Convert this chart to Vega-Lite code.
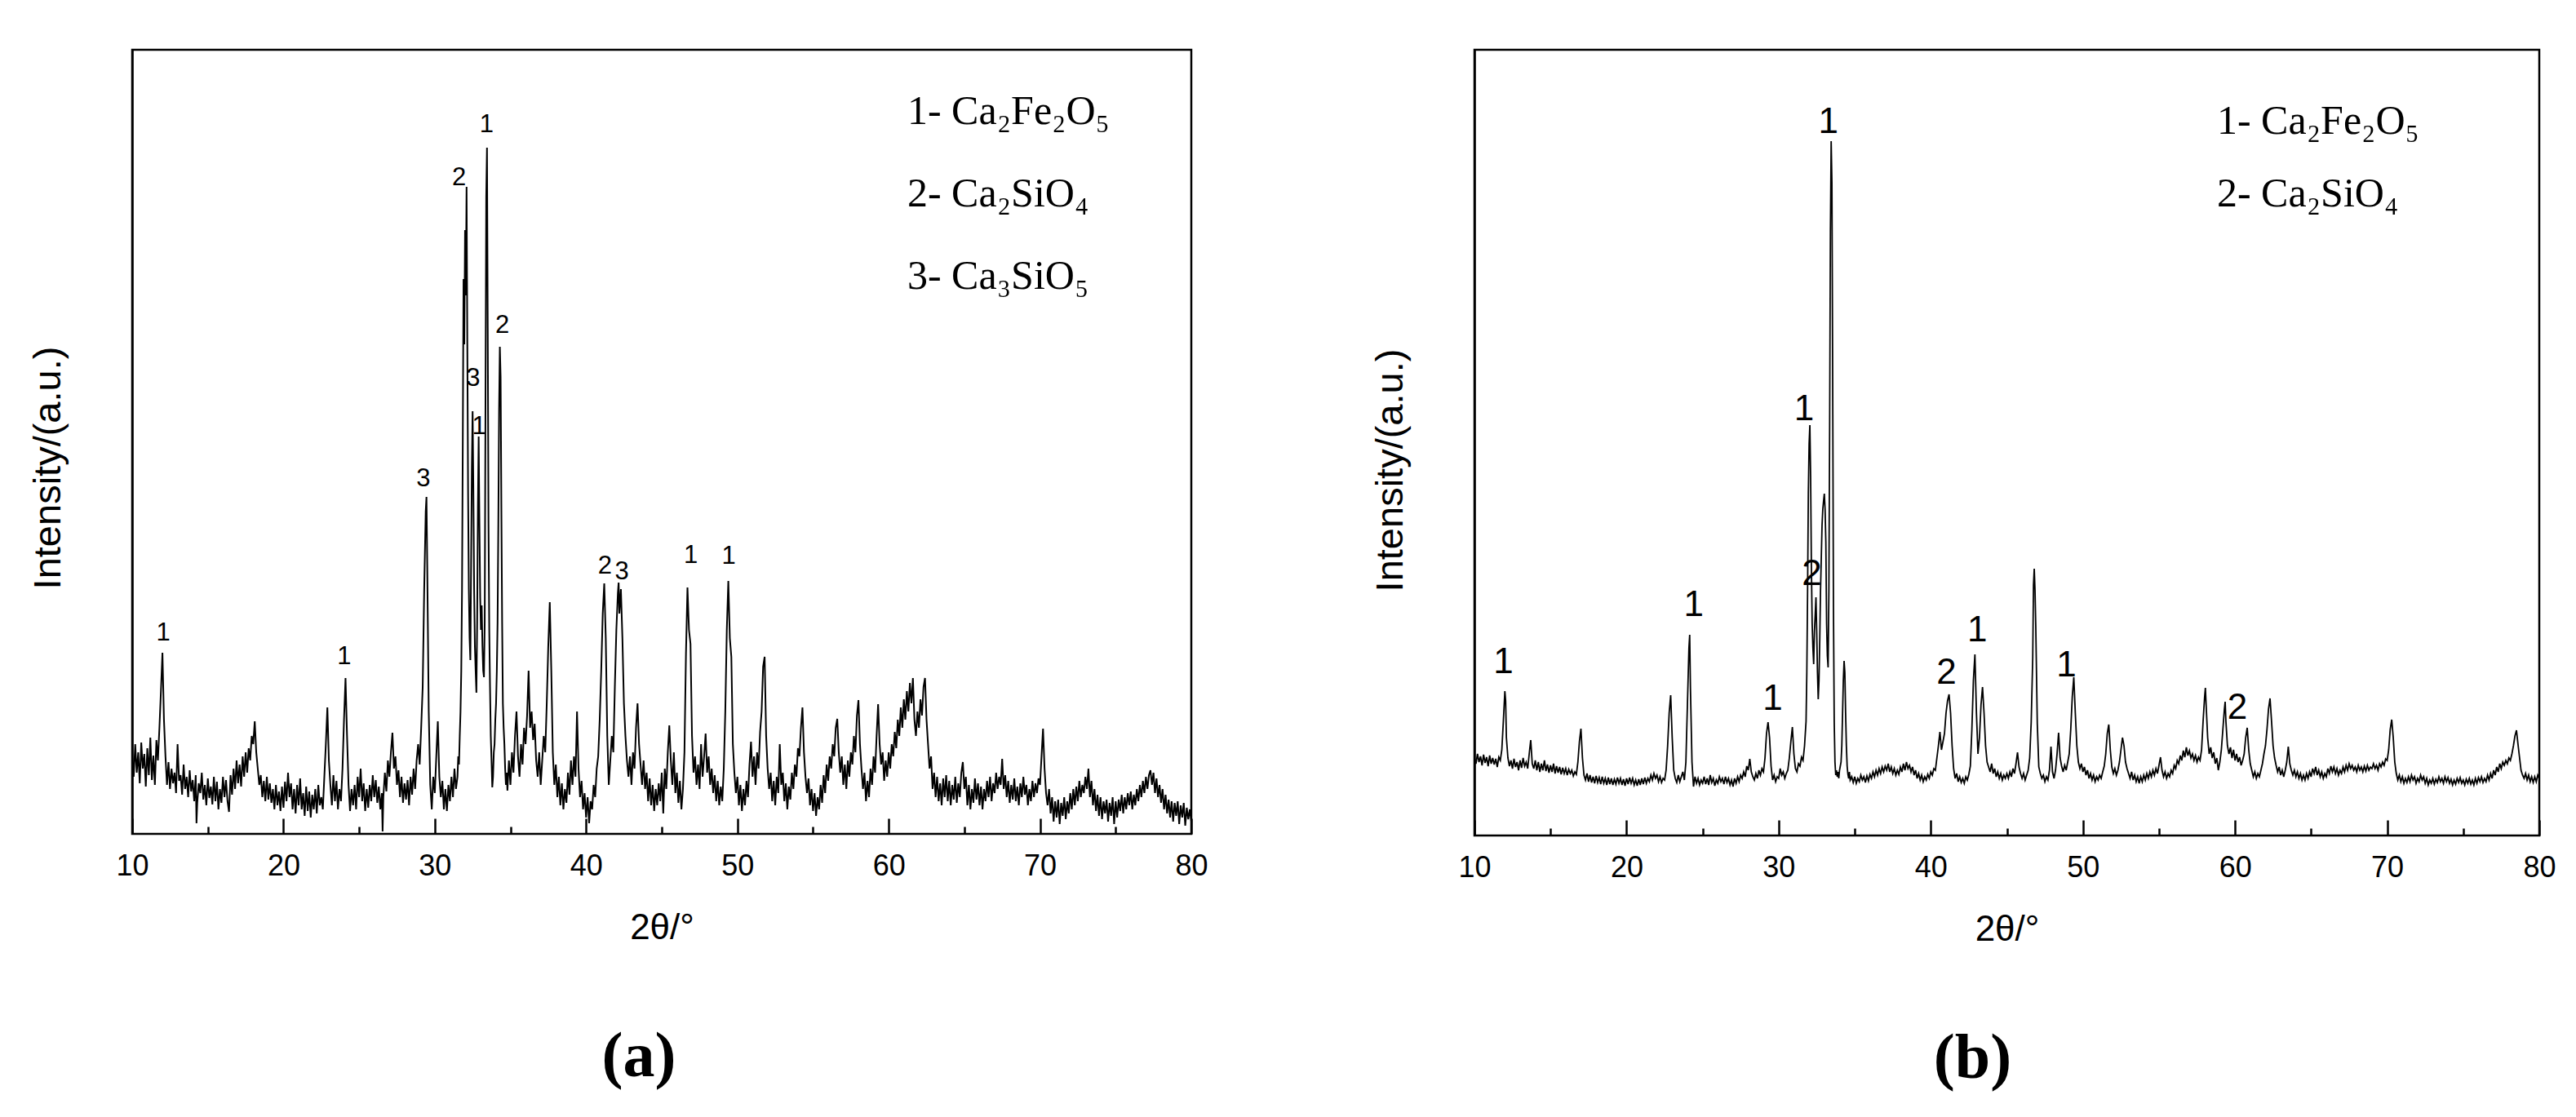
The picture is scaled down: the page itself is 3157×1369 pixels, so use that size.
{
"$schema": "https://vega.github.io/schema/vega-lite/v6.json",
"autosize": {"type": "pad"},
"padding": {"left": 33, "top": 59, "right": 20, "bottom": 10},
"background": "white",
"config": {
  "view": {"stroke": "black", "strokeWidth": 2.5},
  "axis": {"labelFont": "Liberation Sans", "labelFontSize": 36, "labelColor": "black", "titleFont": "Liberation Sans", "titleFontSize": 44, "titleFontWeight": "normal", "titleColor": "black", "tickColor": "black", "tickWidth": 2.5, "labelFlush": false, "labelOverlap": false, "grid": false, "domainColor": "black", "domainWidth": 2.5}
},
"datasets": {
"a": [
{"x":10,"y":95},{"x":10.1,"y":70},{"x":10.2,"y":110},{"x":10.3,"y":75},{"x":10.4,"y":100},{"x":10.5,"y":62},{"x":10.6,"y":112},{"x":10.7,"y":80},{"x":10.8,"y":98},{"x":10.9,"y":58},
{"x":11,"y":105},{"x":11.1,"y":72},{"x":11.2,"y":118},{"x":11.3,"y":66},{"x":11.4,"y":96},{"x":11.5,"y":60},{"x":11.6,"y":115},{"x":11.7,"y":90},{"x":11.8,"y":130},{"x":11.9,"y":175},
{"x":12,"y":222},{"x":12.1,"y":140},{"x":12.2,"y":95},{"x":12.3,"y":60},{"x":12.4,"y":88},{"x":12.5,"y":55},{"x":12.6,"y":80},{"x":12.7,"y":62},{"x":12.8,"y":75},{"x":12.9,"y":50},
{"x":13,"y":110},{"x":13.1,"y":65},{"x":13.2,"y":72},{"x":13.3,"y":48},{"x":13.4,"y":85},{"x":13.5,"y":55},{"x":13.6,"y":70},{"x":13.7,"y":45},{"x":13.8,"y":78},{"x":13.9,"y":52},
{"x":14,"y":66},{"x":14.1,"y":40},{"x":14.2,"y":72},{"x":14.25,"y":13},{"x":14.3,"y":38},{"x":14.4,"y":62},{"x":14.5,"y":50},{"x":14.6,"y":75},{"x":14.7,"y":42},{"x":14.8,"y":60},{"x":14.9,"y":35},
{"x":15,"y":68},{"x":15.1,"y":44},{"x":15.2,"y":58},{"x":15.3,"y":36},{"x":15.4,"y":70},{"x":15.5,"y":40},{"x":15.6,"y":64},{"x":15.7,"y":30},{"x":15.8,"y":55},{"x":15.9,"y":38},
{"x":16,"y":70},{"x":16.1,"y":45},{"x":16.2,"y":66},{"x":16.3,"y":40},{"x":16.4,"y":27},{"x":16.5,"y":72},{"x":16.6,"y":48},{"x":16.7,"y":80},{"x":16.8,"y":55},{"x":16.9,"y":90},
{"x":17,"y":62},{"x":17.1,"y":85},{"x":17.2,"y":58},{"x":17.3,"y":95},{"x":17.4,"y":70},{"x":17.5,"y":100},{"x":17.6,"y":75},{"x":17.7,"y":105},{"x":17.8,"y":90},{"x":17.9,"y":120},
{"x":18,"y":110},{"x":18.1,"y":138},{"x":18.2,"y":100},{"x":18.3,"y":80},{"x":18.4,"y":60},{"x":18.5,"y":72},{"x":18.6,"y":45},{"x":18.7,"y":65},{"x":18.8,"y":40},{"x":18.9,"y":70},
{"x":19,"y":42},{"x":19.1,"y":62},{"x":19.2,"y":38},{"x":19.3,"y":55},{"x":19.4,"y":30},{"x":19.5,"y":60},{"x":19.6,"y":35},{"x":19.7,"y":52},{"x":19.8,"y":28},{"x":19.9,"y":58},
{"x":20,"y":32},{"x":20.1,"y":64},{"x":20.2,"y":40},{"x":20.3,"y":75},{"x":20.4,"y":45},{"x":20.5,"y":62},{"x":20.6,"y":30},{"x":20.7,"y":55},{"x":20.8,"y":25},{"x":20.9,"y":60},
{"x":21,"y":35},{"x":21.1,"y":68},{"x":21.2,"y":30},{"x":21.3,"y":50},{"x":21.4,"y":22},{"x":21.5,"y":58},{"x":21.6,"y":28},{"x":21.7,"y":52},{"x":21.8,"y":20},{"x":21.9,"y":48},
{"x":22,"y":30},{"x":22.1,"y":55},{"x":22.2,"y":25},{"x":22.3,"y":60},{"x":22.4,"y":35},{"x":22.5,"y":45},{"x":22.6,"y":30},{"x":22.7,"y":70},{"x":22.8,"y":110},{"x":22.9,"y":155},
{"x":23,"y":90},{"x":23.1,"y":60},{"x":23.2,"y":35},{"x":23.3,"y":72},{"x":23.4,"y":40},{"x":23.5,"y":65},{"x":23.6,"y":30},{"x":23.7,"y":55},{"x":23.8,"y":40},{"x":23.9,"y":80},
{"x":24,"y":140},{"x":24.1,"y":191},{"x":24.2,"y":120},{"x":24.3,"y":60},{"x":24.4,"y":28},{"x":24.5,"y":55},{"x":24.6,"y":35},{"x":24.7,"y":60},{"x":24.8,"y":30},{"x":24.9,"y":70},
{"x":25,"y":45},{"x":25.1,"y":80},{"x":25.2,"y":40},{"x":25.3,"y":62},{"x":25.4,"y":28},{"x":25.5,"y":55},{"x":25.6,"y":32},{"x":25.7,"y":60},{"x":25.8,"y":40},{"x":25.9,"y":72},
{"x":26,"y":45},{"x":26.1,"y":66},{"x":26.2,"y":38},{"x":26.3,"y":58},{"x":26.4,"y":30},{"x":26.5,"y":50},{"x":26.55,"y":3},{"x":26.6,"y":45},{"x":26.7,"y":75},{"x":26.8,"y":52},{"x":26.9,"y":90},
{"x":27,"y":70},{"x":27.1,"y":100},{"x":27.2,"y":124},{"x":27.3,"y":80},{"x":27.4,"y":95},{"x":27.5,"y":60},{"x":27.6,"y":78},{"x":27.7,"y":45},{"x":27.8,"y":70},{"x":27.9,"y":38},
{"x":28,"y":62},{"x":28.1,"y":42},{"x":28.2,"y":66},{"x":28.3,"y":35},{"x":28.4,"y":70},{"x":28.5,"y":48},{"x":28.6,"y":80},{"x":28.7,"y":55},{"x":28.8,"y":90},{"x":28.9,"y":110},
{"x":29,"y":85},{"x":29.1,"y":130},{"x":29.2,"y":180},{"x":29.3,"y":300},{"x":29.4,"y":395},{"x":29.45,"y":413},{"x":29.5,"y":330},{"x":29.6,"y":150},{"x":29.7,"y":60},{"x":29.8,"y":30},{"x":29.9,"y":70},
{"x":30,"y":50},{"x":30.1,"y":95},{"x":30.2,"y":138},{"x":30.3,"y":70},{"x":30.4,"y":45},{"x":30.5,"y":65},{"x":30.6,"y":30},{"x":30.7,"y":55},{"x":30.8,"y":28},{"x":30.9,"y":60},
{"x":31,"y":40},{"x":31.1,"y":70},{"x":31.2,"y":45},{"x":31.3,"y":80},{"x":31.4,"y":55},
{"x":31.5,"y":70},{"x":31.55,"y":95},{"x":31.6,"y":85},{"x":31.65,"y":120},{"x":31.7,"y":150},{"x":31.75,"y":200},{"x":31.8,"y":300},{"x":31.85,"y":480},{"x":31.9,"y":680},{"x":31.95,"y":600},
{"x":32,"y":740},{"x":32.05,"y":660},{"x":32.1,"y":793},{"x":32.15,"y":600},{"x":32.2,"y":420},{"x":32.25,"y":300},{"x":32.3,"y":240},{"x":32.35,"y":213},{"x":32.4,"y":330},{"x":32.45,"y":450},
{"x":32.5,"y":518},{"x":32.55,"y":420},{"x":32.6,"y":300},{"x":32.65,"y":230},{"x":32.7,"y":200},{"x":32.75,"y":173},{"x":32.8,"y":260},{"x":32.85,"y":400},{"x":32.9,"y":487},{"x":32.95,"y":380},
{"x":33,"y":290},{"x":33.05,"y":250},{"x":33.1,"y":280},{"x":33.15,"y":230},{"x":33.2,"y":200},{"x":33.25,"y":192},{"x":33.3,"y":260},{"x":33.35,"y":520},{"x":33.4,"y":780},{"x":33.45,"y":841},
{"x":33.5,"y":620},{"x":33.55,"y":380},{"x":33.6,"y":250},{"x":33.65,"y":180},{"x":33.7,"y":120},{"x":33.75,"y":90},{"x":33.8,"y":57},{"x":33.85,"y":70},{"x":33.9,"y":100},{"x":33.95,"y":110},
{"x":34,"y":140},{"x":34.05,"y":160},{"x":34.1,"y":200},{"x":34.15,"y":260},{"x":34.2,"y":380},{"x":34.25,"y":520},{"x":34.3,"y":597},{"x":34.35,"y":560},{"x":34.4,"y":400},{"x":34.45,"y":260},
{"x":34.5,"y":160},{"x":34.55,"y":130},{"x":34.6,"y":110},{"x":34.65,"y":80},{"x":34.7,"y":60},{"x":34.75,"y":75},{"x":34.8,"y":53},
{"x":34.9,"y":90},{"x":35,"y":60},{"x":35.1,"y":100},{"x":35.2,"y":75},{"x":35.3,"y":120},{"x":35.4,"y":150},{"x":35.5,"y":95},{"x":35.6,"y":70},{"x":35.7,"y":110},{"x":35.8,"y":85},{"x":35.9,"y":130},
{"x":36,"y":110},{"x":36.1,"y":145},{"x":36.2,"y":200},{"x":36.3,"y":130},{"x":36.4,"y":150},{"x":36.5,"y":115},{"x":36.6,"y":135},{"x":36.7,"y":90},{"x":36.8,"y":70},{"x":36.9,"y":100},
{"x":37,"y":60},{"x":37.1,"y":90},{"x":37.2,"y":120},{"x":37.3,"y":100},{"x":37.4,"y":160},{"x":37.5,"y":230},{"x":37.6,"y":284},{"x":37.7,"y":200},{"x":37.8,"y":100},{"x":37.9,"y":60},
{"x":38,"y":85},{"x":38.1,"y":45},{"x":38.2,"y":70},{"x":38.3,"y":35},{"x":38.4,"y":62},{"x":38.5,"y":30},{"x":38.6,"y":55},{"x":38.7,"y":38},{"x":38.8,"y":75},{"x":38.9,"y":48},
{"x":39,"y":90},{"x":39.1,"y":60},{"x":39.2,"y":95},{"x":39.3,"y":70},{"x":39.4,"y":150},{"x":39.5,"y":80},{"x":39.6,"y":45},{"x":39.7,"y":65},{"x":39.8,"y":30},{"x":39.9,"y":50},
{"x":40,"y":20},{"x":40.1,"y":45},{"x":40.2,"y":13},{"x":40.3,"y":40},{"x":40.4,"y":30},{"x":40.5,"y":60},{"x":40.6,"y":45},{"x":40.7,"y":80},{"x":40.8,"y":95},{"x":40.9,"y":140},
{"x":41,"y":200},{"x":41.1,"y":270},{"x":41.2,"y":307},{"x":41.3,"y":240},{"x":41.4,"y":120},{"x":41.5,"y":60},{"x":41.6,"y":90},{"x":41.7,"y":120},{"x":41.8,"y":100},{"x":41.9,"y":180},
{"x":42,"y":250},{"x":42.1,"y":295},{"x":42.15,"y":308},{"x":42.2,"y":270},{"x":42.3,"y":300},{"x":42.4,"y":240},{"x":42.5,"y":160},{"x":42.6,"y":120},{"x":42.7,"y":90},{"x":42.8,"y":70},{"x":42.9,"y":95},
{"x":43,"y":60},{"x":43.1,"y":100},{"x":43.2,"y":80},{"x":43.3,"y":130},{"x":43.4,"y":160},{"x":43.5,"y":110},{"x":43.6,"y":85},{"x":43.7,"y":60},{"x":43.8,"y":90},{"x":43.9,"y":55},
{"x":44,"y":75},{"x":44.1,"y":40},{"x":44.2,"y":68},{"x":44.3,"y":35},{"x":44.4,"y":60},{"x":44.5,"y":28},{"x":44.6,"y":55},{"x":44.7,"y":35},{"x":44.8,"y":62},{"x":44.9,"y":40},
{"x":45,"y":75},{"x":45.1,"y":25},{"x":45.2,"y":80},{"x":45.3,"y":55},{"x":45.4,"y":100},{"x":45.5,"y":133},{"x":45.6,"y":90},{"x":45.7,"y":60},{"x":45.8,"y":100},{"x":45.9,"y":50},
{"x":46,"y":75},{"x":46.1,"y":38},{"x":46.2,"y":65},{"x":46.3,"y":30},{"x":46.4,"y":55},{"x":46.5,"y":100},{"x":46.6,"y":220},{"x":46.7,"y":302},{"x":46.8,"y":250},{"x":46.9,"y":233},
{"x":47,"y":120},{"x":47.1,"y":75},{"x":47.2,"y":95},{"x":47.3,"y":60},{"x":47.4,"y":85},{"x":47.5,"y":55},{"x":47.6,"y":110},{"x":47.7,"y":70},{"x":47.8,"y":95},{"x":47.9,"y":123},
{"x":48,"y":75},{"x":48.1,"y":95},{"x":48.2,"y":60},{"x":48.3,"y":80},{"x":48.4,"y":50},{"x":48.5,"y":72},{"x":48.6,"y":40},{"x":48.7,"y":65},{"x":48.8,"y":35},{"x":48.9,"y":58},
{"x":49,"y":40},{"x":49.1,"y":80},{"x":49.2,"y":150},{"x":49.3,"y":250},{"x":49.4,"y":310},{"x":49.5,"y":240},{"x":49.6,"y":217},{"x":49.7,"y":110},{"x":49.8,"y":75},{"x":49.9,"y":50},
{"x":50,"y":70},{"x":50.1,"y":35},{"x":50.2,"y":60},{"x":50.3,"y":28},{"x":50.4,"y":55},{"x":50.5,"y":35},{"x":50.6,"y":65},{"x":50.7,"y":45},{"x":50.8,"y":85},{"x":50.9,"y":113},
{"x":51,"y":70},{"x":51.1,"y":95},{"x":51.2,"y":60},{"x":51.3,"y":100},{"x":51.4,"y":80},{"x":51.5,"y":125},{"x":51.6,"y":150},{"x":51.7,"y":205},{"x":51.8,"y":217},{"x":51.9,"y":120},
{"x":52,"y":80},{"x":52.1,"y":55},{"x":52.2,"y":75},{"x":52.3,"y":40},{"x":52.4,"y":65},{"x":52.5,"y":35},{"x":52.6,"y":70},{"x":52.7,"y":50},{"x":52.8,"y":110},{"x":52.9,"y":60},
{"x":53,"y":75},{"x":53.1,"y":40},{"x":53.2,"y":62},{"x":53.3,"y":30},{"x":53.4,"y":58},{"x":53.5,"y":42},{"x":53.6,"y":75},{"x":53.7,"y":55},{"x":53.8,"y":85},{"x":53.9,"y":70},
{"x":54,"y":105},{"x":54.1,"y":95},{"x":54.2,"y":130},{"x":54.3,"y":155},{"x":54.4,"y":100},{"x":54.5,"y":70},{"x":54.6,"y":50},{"x":54.7,"y":68},{"x":54.8,"y":35},{"x":54.9,"y":55},
{"x":55,"y":28},{"x":55.1,"y":50},{"x":55.2,"y":22},{"x":55.3,"y":45},{"x":55.4,"y":30},{"x":55.5,"y":60},{"x":55.6,"y":38},{"x":55.7,"y":72},{"x":55.8,"y":50},{"x":55.9,"y":85},
{"x":56,"y":65},{"x":56.1,"y":95},{"x":56.2,"y":80},{"x":56.3,"y":110},{"x":56.4,"y":95},{"x":56.5,"y":130},{"x":56.6,"y":141},{"x":56.7,"y":100},{"x":56.8,"y":75},{"x":56.9,"y":95},
{"x":57,"y":60},{"x":57.1,"y":85},{"x":57.2,"y":55},{"x":57.3,"y":90},{"x":57.4,"y":70},{"x":57.5,"y":100},{"x":57.6,"y":85},{"x":57.7,"y":120},{"x":57.8,"y":100},{"x":57.9,"y":145},
{"x":58,"y":164},{"x":58.1,"y":110},{"x":58.2,"y":80},{"x":58.3,"y":55},{"x":58.4,"y":75},{"x":58.5,"y":40},{"x":58.6,"y":65},{"x":58.7,"y":45},{"x":58.8,"y":80},{"x":58.9,"y":60},
{"x":59,"y":95},{"x":59.1,"y":75},{"x":59.2,"y":120},{"x":59.3,"y":159},{"x":59.4,"y":110},{"x":59.5,"y":85},{"x":59.6,"y":100},{"x":59.7,"y":65},{"x":59.8,"y":90},{"x":59.9,"y":70},
{"x":60,"y":100},{"x":60.1,"y":80},{"x":60.2,"y":110},{"x":60.3,"y":95},{"x":60.4,"y":125},{"x":60.5,"y":105},{"x":60.6,"y":140},{"x":60.7,"y":120},{"x":60.8,"y":155},{"x":60.9,"y":130},
{"x":61,"y":165},{"x":61.1,"y":140},{"x":61.2,"y":175},{"x":61.3,"y":150},{"x":61.4,"y":185},{"x":61.5,"y":160},{"x":61.6,"y":191},{"x":61.7,"y":140},{"x":61.8,"y":120},{"x":61.9,"y":150},
{"x":62,"y":130},{"x":62.1,"y":165},{"x":62.2,"y":145},{"x":62.3,"y":180},{"x":62.4,"y":191},{"x":62.5,"y":140},{"x":62.6,"y":110},{"x":62.7,"y":80},{"x":62.8,"y":95},{"x":62.9,"y":55},
{"x":63,"y":75},{"x":63.1,"y":45},{"x":63.2,"y":70},{"x":63.3,"y":40},{"x":63.4,"y":62},{"x":63.5,"y":35},{"x":63.6,"y":68},{"x":63.7,"y":45},{"x":63.8,"y":72},{"x":63.9,"y":40},
{"x":64,"y":65},{"x":64.1,"y":35},{"x":64.2,"y":60},{"x":64.3,"y":42},{"x":64.4,"y":70},{"x":64.5,"y":38},{"x":64.6,"y":62},{"x":64.7,"y":45},{"x":64.8,"y":75},{"x":64.9,"y":88},
{"x":65,"y":55},{"x":65.1,"y":70},{"x":65.2,"y":35},{"x":65.3,"y":60},{"x":65.4,"y":30},{"x":65.5,"y":55},{"x":65.6,"y":38},{"x":65.7,"y":68},{"x":65.8,"y":42},{"x":65.9,"y":62},
{"x":66,"y":35},{"x":66.1,"y":58},{"x":66.2,"y":30},{"x":66.3,"y":55},{"x":66.4,"y":40},{"x":66.5,"y":65},{"x":66.6,"y":45},{"x":66.7,"y":70},{"x":66.8,"y":40},{"x":66.9,"y":62},
{"x":67,"y":50},{"x":67.1,"y":75},{"x":67.2,"y":55},{"x":67.3,"y":70},{"x":67.4,"y":60},{"x":67.5,"y":92},{"x":67.6,"y":55},{"x":67.7,"y":72},{"x":67.8,"y":45},{"x":67.9,"y":65},
{"x":68,"y":38},{"x":68.1,"y":60},{"x":68.2,"y":42},{"x":68.3,"y":68},{"x":68.4,"y":40},{"x":68.5,"y":58},{"x":68.6,"y":35},{"x":68.7,"y":62},{"x":68.8,"y":45},{"x":68.9,"y":70},
{"x":69,"y":48},{"x":69.1,"y":60},{"x":69.2,"y":35},{"x":69.3,"y":55},{"x":69.4,"y":40},{"x":69.5,"y":65},{"x":69.6,"y":45},{"x":69.7,"y":62},{"x":69.8,"y":50},{"x":69.9,"y":68},
{"x":70,"y":60},{"x":70.1,"y":95},{"x":70.2,"y":129},{"x":70.3,"y":80},{"x":70.4,"y":50},{"x":70.5,"y":35},{"x":70.6,"y":55},{"x":70.7,"y":25},{"x":70.8,"y":45},{"x":70.9,"y":15},
{"x":71,"y":40},{"x":71.1,"y":20},{"x":71.2,"y":42},{"x":71.3,"y":12},{"x":71.4,"y":38},{"x":71.5,"y":22},{"x":71.6,"y":45},{"x":71.7,"y":18},{"x":71.8,"y":40},{"x":71.9,"y":25},
{"x":72,"y":50},{"x":72.1,"y":30},{"x":72.2,"y":55},{"x":72.3,"y":35},{"x":72.4,"y":58},{"x":72.5,"y":40},{"x":72.6,"y":65},{"x":72.7,"y":45},{"x":72.8,"y":60},{"x":72.9,"y":50},
{"x":73,"y":70},{"x":73.1,"y":55},{"x":73.2,"y":80},{"x":73.3,"y":45},{"x":73.4,"y":65},{"x":73.5,"y":35},{"x":73.6,"y":55},{"x":73.7,"y":28},{"x":73.8,"y":48},{"x":73.9,"y":22},
{"x":74,"y":45},{"x":74.1,"y":18},{"x":74.2,"y":40},{"x":74.3,"y":25},{"x":74.4,"y":42},{"x":74.5,"y":15},{"x":74.6,"y":38},{"x":74.7,"y":22},{"x":74.8,"y":45},{"x":74.9,"y":12},
{"x":75,"y":40},{"x":75.1,"y":20},{"x":75.2,"y":42},{"x":75.3,"y":28},{"x":75.4,"y":48},{"x":75.5,"y":25},{"x":75.6,"y":45},{"x":75.7,"y":30},{"x":75.8,"y":50},{"x":75.9,"y":35},
{"x":76,"y":52},{"x":76.1,"y":30},{"x":76.2,"y":48},{"x":76.3,"y":35},{"x":76.4,"y":55},{"x":76.5,"y":40},{"x":76.6,"y":60},{"x":76.7,"y":45},{"x":76.8,"y":65},{"x":76.9,"y":50},
{"x":77,"y":70},{"x":77.1,"y":55},{"x":77.2,"y":72},{"x":77.3,"y":78},{"x":77.4,"y":60},{"x":77.5,"y":75},{"x":77.6,"y":50},{"x":77.7,"y":68},{"x":77.8,"y":45},{"x":77.9,"y":60},
{"x":78,"y":38},{"x":78.1,"y":55},{"x":78.2,"y":30},{"x":78.3,"y":48},{"x":78.4,"y":25},{"x":78.5,"y":42},{"x":78.6,"y":20},{"x":78.7,"y":40},{"x":78.8,"y":15},{"x":78.9,"y":38},
{"x":79,"y":22},{"x":79.1,"y":40},{"x":79.2,"y":12},{"x":79.3,"y":35},{"x":79.4,"y":20},{"x":79.5,"y":38},{"x":79.6,"y":10},{"x":79.7,"y":32},{"x":79.8,"y":18},{"x":79.9,"y":30},{"x":80,"y":15}
],
"b": [
{"x":10,"y":95},{"x":10.1,"y":88},{"x":10.2,"y":100},{"x":10.3,"y":90},{"x":10.4,"y":97},{"x":10.5,"y":86},{"x":10.6,"y":99},{"x":10.7,"y":89},{"x":10.8,"y":96},{"x":10.9,"y":85},
{"x":11,"y":98},{"x":11.1,"y":88},{"x":11.2,"y":95},{"x":11.3,"y":87},{"x":11.4,"y":94},{"x":11.5,"y":84},{"x":11.6,"y":96},{"x":11.7,"y":92},{"x":11.8,"y":105},{"x":11.9,"y":140},
{"x":12,"y":177},{"x":12.05,"y":165},{"x":12.1,"y":120},{"x":12.2,"y":95},{"x":12.3,"y":85},{"x":12.4,"y":92},{"x":12.5,"y":82},{"x":12.6,"y":94},{"x":12.7,"y":84},{"x":12.8,"y":90},{"x":12.9,"y":80},
{"x":13,"y":92},{"x":13.1,"y":83},{"x":13.2,"y":95},{"x":13.3,"y":85},{"x":13.4,"y":90},{"x":13.5,"y":82},{"x":13.6,"y":100},{"x":13.7,"y":117},{"x":13.8,"y":88},{"x":13.9,"y":82},
{"x":14,"y":92},{"x":14.1,"y":80},{"x":14.2,"y":90},{"x":14.3,"y":78},{"x":14.4,"y":88},{"x":14.5,"y":80},{"x":14.6,"y":92},{"x":14.7,"y":79},{"x":14.8,"y":87},{"x":14.9,"y":77},
{"x":15,"y":86},{"x":15.1,"y":78},{"x":15.2,"y":88},{"x":15.3,"y":76},{"x":15.4,"y":85},{"x":15.5,"y":77},{"x":15.6,"y":84},{"x":15.7,"y":75},{"x":15.8,"y":83},{"x":15.9,"y":76},
{"x":16,"y":82},{"x":16.1,"y":74},{"x":16.2,"y":81},{"x":16.3,"y":76},{"x":16.4,"y":80},{"x":16.5,"y":73},{"x":16.6,"y":78},{"x":16.7,"y":75},{"x":16.8,"y":90},{"x":16.9,"y":115},
{"x":17,"y":131},{"x":17.1,"y":95},{"x":17.2,"y":74},{"x":17.3,"y":68},{"x":17.4,"y":76},{"x":17.5,"y":66},{"x":17.6,"y":74},{"x":17.7,"y":65},{"x":17.8,"y":72},{"x":17.9,"y":64},
{"x":18,"y":73},{"x":18.1,"y":65},{"x":18.2,"y":71},{"x":18.3,"y":63},{"x":18.4,"y":72},{"x":18.5,"y":64},{"x":18.6,"y":70},{"x":18.7,"y":62},{"x":18.8,"y":71},{"x":18.9,"y":63},
{"x":19,"y":70},{"x":19.1,"y":62},{"x":19.2,"y":69},{"x":19.3,"y":63},{"x":19.4,"y":71},{"x":19.5,"y":64},{"x":19.6,"y":70},{"x":19.7,"y":62},{"x":19.8,"y":69},{"x":19.9,"y":61},
{"x":20,"y":70},{"x":20.1,"y":63},{"x":20.2,"y":71},{"x":20.3,"y":64},{"x":20.4,"y":70},{"x":20.5,"y":62},{"x":20.6,"y":68},{"x":20.7,"y":61},{"x":20.8,"y":69},{"x":20.9,"y":62},
{"x":21,"y":70},{"x":21.1,"y":63},{"x":21.2,"y":71},{"x":21.3,"y":64},{"x":21.4,"y":70},{"x":21.5,"y":66},{"x":21.6,"y":74},{"x":21.7,"y":68},{"x":21.8,"y":76},{"x":21.9,"y":70},
{"x":22,"y":74},{"x":22.1,"y":66},{"x":22.2,"y":72},{"x":22.3,"y":65},{"x":22.4,"y":70},{"x":22.5,"y":68},{"x":22.6,"y":80},{"x":22.7,"y":110},{"x":22.8,"y":150},{"x":22.9,"y":172},
{"x":23,"y":120},{"x":23.1,"y":80},{"x":23.2,"y":70},{"x":23.3,"y":65},{"x":23.4,"y":74},{"x":23.5,"y":66},{"x":23.6,"y":72},{"x":23.7,"y":78},{"x":23.8,"y":68},{"x":23.9,"y":90},
{"x":24,"y":160},{"x":24.1,"y":230},{"x":24.15,"y":246},{"x":24.2,"y":180},{"x":24.3,"y":90},{"x":24.4,"y":60},{"x":24.5,"y":72},{"x":24.6,"y":64},{"x":24.7,"y":70},{"x":24.8,"y":62},{"x":24.9,"y":68},
{"x":25,"y":64},{"x":25.1,"y":72},{"x":25.2,"y":63},{"x":25.3,"y":70},{"x":25.4,"y":62},{"x":25.5,"y":74},{"x":25.6,"y":65},{"x":25.7,"y":70},{"x":25.8,"y":61},{"x":25.9,"y":68},
{"x":26,"y":64},{"x":26.1,"y":72},{"x":26.2,"y":66},{"x":26.3,"y":70},{"x":26.4,"y":63},{"x":26.5,"y":72},{"x":26.6,"y":65},{"x":26.7,"y":70},{"x":26.8,"y":62},{"x":26.9,"y":68},
{"x":27,"y":60},{"x":27.1,"y":70},{"x":27.2,"y":64},{"x":27.3,"y":72},{"x":27.4,"y":66},{"x":27.5,"y":74},{"x":27.6,"y":70},{"x":27.7,"y":78},{"x":27.8,"y":72},{"x":27.9,"y":85},
{"x":28,"y":80},{"x":28.1,"y":94},{"x":28.2,"y":78},{"x":28.3,"y":72},{"x":28.4,"y":68},{"x":28.5,"y":76},{"x":28.6,"y":70},{"x":28.7,"y":80},{"x":28.8,"y":74},{"x":28.9,"y":82},
{"x":29,"y":78},{"x":29.1,"y":95},{"x":29.2,"y":125},{"x":29.3,"y":139},{"x":29.4,"y":120},{"x":29.5,"y":85},{"x":29.6,"y":68},{"x":29.7,"y":74},{"x":29.8,"y":66},{"x":29.9,"y":72},
{"x":30,"y":70},{"x":30.1,"y":82},{"x":30.2,"y":74},{"x":30.3,"y":78},{"x":30.4,"y":70},{"x":30.5,"y":76},{"x":30.6,"y":80},{"x":30.7,"y":95},{"x":30.8,"y":115},{"x":30.9,"y":133},
{"x":31,"y":100},{"x":31.1,"y":82},{"x":31.2,"y":78},{"x":31.3,"y":88},{"x":31.4,"y":85},{"x":31.5,"y":96},{"x":31.6,"y":92},{"x":31.7,"y":110},
{"x":31.8,"y":140},{"x":31.85,"y":200},{"x":31.9,"y":300},{"x":31.95,"y":420},{"x":32,"y":480},{"x":32.05,"y":503},{"x":32.1,"y":440},{"x":32.15,"y":330},{"x":32.2,"y":260},{"x":32.25,"y":230},
{"x":32.3,"y":210},{"x":32.35,"y":250},{"x":32.4,"y":270},{"x":32.45,"y":292},{"x":32.5,"y":250},{"x":32.55,"y":200},{"x":32.6,"y":167},{"x":32.65,"y":190},{"x":32.7,"y":240},{"x":32.75,"y":300},
{"x":32.8,"y":340},{"x":32.85,"y":380},{"x":32.9,"y":400},{"x":32.95,"y":410},{"x":33,"y":419},{"x":33.05,"y":400},{"x":33.1,"y":360},{"x":33.15,"y":260},{"x":33.2,"y":220},{"x":33.25,"y":206},
{"x":33.3,"y":300},{"x":33.35,"y":500},{"x":33.4,"y":740},{"x":33.45,"y":851},{"x":33.5,"y":800},{"x":33.55,"y":560},{"x":33.6,"y":280},{"x":33.65,"y":140},{"x":33.7,"y":90},{"x":33.75,"y":74},
{"x":33.8,"y":80},{"x":33.85,"y":72},{"x":33.9,"y":78},{"x":33.95,"y":70},{"x":34,"y":80},{"x":34.05,"y":85},{"x":34.1,"y":90},{"x":34.15,"y":110},{"x":34.2,"y":150},{"x":34.25,"y":190},
{"x":34.3,"y":214},{"x":34.35,"y":200},{"x":34.4,"y":150},{"x":34.45,"y":110},{"x":34.5,"y":85},{"x":34.55,"y":75},{"x":34.6,"y":70},{"x":34.65,"y":78},{"x":34.7,"y":68},
{"x":34.8,"y":72},{"x":34.9,"y":65},{"x":35,"y":72},{"x":35.1,"y":64},{"x":35.2,"y":70},{"x":35.3,"y":66},{"x":35.4,"y":74},{"x":35.5,"y":68},{"x":35.6,"y":72},{"x":35.7,"y":65},{"x":35.8,"y":73},{"x":35.9,"y":67},
{"x":36,"y":75},{"x":36.1,"y":70},{"x":36.2,"y":78},{"x":36.3,"y":72},{"x":36.4,"y":80},{"x":36.5,"y":74},{"x":36.6,"y":82},{"x":36.7,"y":76},{"x":36.8,"y":84},{"x":36.9,"y":78},
{"x":37,"y":85},{"x":37.1,"y":80},{"x":37.2,"y":88},{"x":37.3,"y":78},{"x":37.4,"y":84},{"x":37.5,"y":76},{"x":37.6,"y":82},{"x":37.7,"y":74},{"x":37.8,"y":80},{"x":37.9,"y":75},
{"x":38,"y":84},{"x":38.1,"y":78},{"x":38.2,"y":88},{"x":38.3,"y":80},{"x":38.4,"y":90},{"x":38.5,"y":82},{"x":38.6,"y":86},{"x":38.7,"y":78},{"x":38.8,"y":84},{"x":38.9,"y":74},
{"x":39,"y":80},{"x":39.1,"y":70},{"x":39.2,"y":76},{"x":39.3,"y":68},{"x":39.4,"y":74},{"x":39.5,"y":66},{"x":39.6,"y":72},{"x":39.7,"y":68},{"x":39.8,"y":75},{"x":39.9,"y":70},
{"x":40,"y":78},{"x":40.1,"y":74},{"x":40.2,"y":82},{"x":40.3,"y":80},{"x":40.4,"y":95},{"x":40.5,"y":110},{"x":40.6,"y":127},{"x":40.7,"y":105},{"x":40.8,"y":115},{"x":40.9,"y":125},
{"x":41,"y":150},{"x":41.1,"y":165},{"x":41.2,"y":173},{"x":41.3,"y":150},{"x":41.4,"y":110},{"x":41.5,"y":82},{"x":41.6,"y":70},{"x":41.7,"y":76},{"x":41.8,"y":66},{"x":41.9,"y":72},
{"x":42,"y":65},{"x":42.1,"y":70},{"x":42.2,"y":64},{"x":42.3,"y":72},{"x":42.4,"y":68},{"x":42.5,"y":75},{"x":42.6,"y":85},{"x":42.7,"y":130},{"x":42.8,"y":190},{"x":42.9,"y":222},
{"x":43,"y":150},{"x":43.1,"y":100},{"x":43.2,"y":120},{"x":43.3,"y":160},{"x":43.4,"y":182},{"x":43.5,"y":150},{"x":43.6,"y":110},{"x":43.7,"y":90},{"x":43.8,"y":84},{"x":43.9,"y":78},
{"x":44,"y":88},{"x":44.1,"y":76},{"x":44.2,"y":82},{"x":44.3,"y":72},{"x":44.4,"y":78},{"x":44.5,"y":70},{"x":44.6,"y":76},{"x":44.7,"y":68},{"x":44.8,"y":74},{"x":44.9,"y":70},
{"x":45,"y":76},{"x":45.1,"y":70},{"x":45.2,"y":78},{"x":45.3,"y":72},{"x":45.4,"y":82},{"x":45.5,"y":76},{"x":45.6,"y":88},{"x":45.7,"y":102},{"x":45.8,"y":84},{"x":45.9,"y":76},
{"x":46,"y":70},{"x":46.1,"y":76},{"x":46.2,"y":68},{"x":46.3,"y":74},{"x":46.4,"y":80},{"x":46.5,"y":95},{"x":46.6,"y":139},{"x":46.7,"y":217},{"x":46.75,"y":307},{"x":46.8,"y":327},{"x":46.85,"y":301},{"x":46.9,"y":257},
{"x":47,"y":137},{"x":47.1,"y":84},{"x":47.2,"y":76},{"x":47.3,"y":70},{"x":47.4,"y":74},{"x":47.5,"y":66},{"x":47.6,"y":72},{"x":47.7,"y":68},{"x":47.8,"y":80},{"x":47.9,"y":109},
{"x":48,"y":78},{"x":48.1,"y":70},{"x":48.2,"y":80},{"x":48.3,"y":100},{"x":48.4,"y":126},{"x":48.5,"y":95},{"x":48.6,"y":85},{"x":48.7,"y":78},{"x":48.8,"y":86},{"x":48.9,"y":80},
{"x":49,"y":90},{"x":49.1,"y":100},{"x":49.2,"y":130},{"x":49.3,"y":170},{"x":49.4,"y":194},{"x":49.5,"y":150},{"x":49.6,"y":110},{"x":49.7,"y":90},{"x":49.8,"y":82},{"x":49.9,"y":88},
{"x":50,"y":78},{"x":50.1,"y":84},{"x":50.2,"y":74},{"x":50.3,"y":80},{"x":50.4,"y":70},{"x":50.5,"y":76},{"x":50.6,"y":68},{"x":50.7,"y":74},{"x":50.8,"y":66},{"x":50.9,"y":72},
{"x":51,"y":68},{"x":51.1,"y":74},{"x":51.2,"y":70},{"x":51.3,"y":78},{"x":51.4,"y":85},{"x":51.5,"y":100},{"x":51.6,"y":125},{"x":51.7,"y":136},{"x":51.8,"y":105},{"x":51.9,"y":84},
{"x":52,"y":76},{"x":52.1,"y":82},{"x":52.2,"y":74},{"x":52.3,"y":80},{"x":52.4,"y":90},{"x":52.5,"y":105},{"x":52.6,"y":120},{"x":52.7,"y":110},{"x":52.8,"y":90},{"x":52.9,"y":82},
{"x":53,"y":76},{"x":53.1,"y":70},{"x":53.2,"y":78},{"x":53.3,"y":68},{"x":53.4,"y":74},{"x":53.5,"y":66},{"x":53.6,"y":72},{"x":53.7,"y":64},{"x":53.8,"y":72},{"x":53.9,"y":66},
{"x":54,"y":74},{"x":54.1,"y":68},{"x":54.2,"y":76},{"x":54.3,"y":70},{"x":54.4,"y":78},{"x":54.5,"y":72},{"x":54.6,"y":80},{"x":54.7,"y":74},{"x":54.8,"y":82},{"x":54.9,"y":76},
{"x":55,"y":86},{"x":55.1,"y":96},{"x":55.2,"y":80},{"x":55.3,"y":72},{"x":55.4,"y":78},{"x":55.5,"y":70},{"x":55.6,"y":76},{"x":55.7,"y":72},{"x":55.8,"y":80},{"x":55.9,"y":76},
{"x":56,"y":86},{"x":56.1,"y":82},{"x":56.2,"y":92},{"x":56.3,"y":88},{"x":56.4,"y":98},{"x":56.5,"y":92},{"x":56.6,"y":104},{"x":56.7,"y":96},{"x":56.8,"y":108},{"x":56.9,"y":98},
{"x":57,"y":104},{"x":57.1,"y":95},{"x":57.2,"y":100},{"x":57.3,"y":92},{"x":57.4,"y":98},{"x":57.5,"y":90},{"x":57.6,"y":96},{"x":57.7,"y":92},{"x":57.8,"y":105},{"x":57.9,"y":140},
{"x":58,"y":170},{"x":58.05,"y":181},{"x":58.1,"y":160},{"x":58.2,"y":120},{"x":58.3,"y":100},{"x":58.4,"y":108},{"x":58.5,"y":95},{"x":58.6,"y":102},{"x":58.7,"y":88},{"x":58.8,"y":95},{"x":58.9,"y":80},
{"x":59,"y":90},{"x":59.1,"y":105},{"x":59.2,"y":130},{"x":59.3,"y":155},{"x":59.35,"y":164},{"x":59.4,"y":140},{"x":59.5,"y":110},{"x":59.6,"y":100},{"x":59.7,"y":108},{"x":59.8,"y":95},{"x":59.9,"y":105},
{"x":60,"y":92},{"x":60.1,"y":100},{"x":60.2,"y":90},{"x":60.3,"y":96},{"x":60.4,"y":86},{"x":60.5,"y":92},{"x":60.6,"y":100},{"x":60.7,"y":120},{"x":60.8,"y":132},{"x":60.9,"y":105},
{"x":61,"y":88},{"x":61.1,"y":80},{"x":61.2,"y":72},{"x":61.3,"y":78},{"x":61.4,"y":70},{"x":61.5,"y":76},{"x":61.6,"y":72},{"x":61.7,"y":80},{"x":61.8,"y":88},{"x":61.9,"y":100},
{"x":62,"y":110},{"x":62.1,"y":130},{"x":62.2,"y":155},{"x":62.3,"y":168},{"x":62.4,"y":140},{"x":62.5,"y":110},{"x":62.6,"y":95},{"x":62.7,"y":86},{"x":62.8,"y":78},{"x":62.9,"y":84},
{"x":63,"y":74},{"x":63.1,"y":80},{"x":63.2,"y":72},{"x":63.3,"y":80},{"x":63.4,"y":90},{"x":63.5,"y":109},{"x":63.6,"y":88},{"x":63.7,"y":80},{"x":63.8,"y":74},{"x":63.9,"y":80},
{"x":64,"y":72},{"x":64.1,"y":78},{"x":64.2,"y":70},{"x":64.3,"y":76},{"x":64.4,"y":68},{"x":64.5,"y":74},{"x":64.6,"y":68},{"x":64.7,"y":76},{"x":64.8,"y":70},{"x":64.9,"y":78},
{"x":65,"y":72},{"x":65.1,"y":82},{"x":65.2,"y":76},{"x":65.3,"y":84},{"x":65.4,"y":74},{"x":65.5,"y":80},{"x":65.6,"y":72},{"x":65.7,"y":78},{"x":65.8,"y":70},{"x":65.9,"y":76},
{"x":66,"y":72},{"x":66.1,"y":82},{"x":66.2,"y":76},{"x":66.3,"y":85},{"x":66.4,"y":78},{"x":66.5,"y":84},{"x":66.6,"y":76},{"x":66.7,"y":82},{"x":66.8,"y":74},{"x":66.9,"y":80},
{"x":67,"y":76},{"x":67.1,"y":84},{"x":67.2,"y":78},{"x":67.3,"y":86},{"x":67.4,"y":80},{"x":67.5,"y":88},{"x":67.6,"y":82},{"x":67.7,"y":86},{"x":67.8,"y":80},{"x":67.9,"y":84},
{"x":68,"y":78},{"x":68.1,"y":86},{"x":68.2,"y":80},{"x":68.3,"y":84},{"x":68.4,"y":78},{"x":68.5,"y":85},{"x":68.6,"y":79},{"x":68.7,"y":86},{"x":68.8,"y":80},{"x":68.9,"y":84},
{"x":69,"y":82},{"x":69.1,"y":88},{"x":69.2,"y":82},{"x":69.3,"y":86},{"x":69.4,"y":80},{"x":69.5,"y":88},{"x":69.6,"y":84},{"x":69.7,"y":90},{"x":69.8,"y":86},{"x":69.9,"y":94},
{"x":70,"y":92},{"x":70.1,"y":105},{"x":70.2,"y":130},{"x":70.3,"y":142},{"x":70.4,"y":120},{"x":70.5,"y":90},{"x":70.6,"y":76},{"x":70.7,"y":68},{"x":70.8,"y":74},{"x":70.9,"y":66},
{"x":71,"y":72},{"x":71.1,"y":64},{"x":71.2,"y":70},{"x":71.3,"y":65},{"x":71.4,"y":72},{"x":71.5,"y":66},{"x":71.6,"y":74},{"x":71.7,"y":68},{"x":71.8,"y":72},{"x":71.9,"y":64},
{"x":72,"y":70},{"x":72.1,"y":66},{"x":72.2,"y":74},{"x":72.3,"y":68},{"x":72.4,"y":72},{"x":72.5,"y":64},{"x":72.6,"y":70},{"x":72.7,"y":62},{"x":72.8,"y":68},{"x":72.9,"y":64},
{"x":73,"y":70},{"x":73.1,"y":63},{"x":73.2,"y":69},{"x":73.3,"y":65},{"x":73.4,"y":72},{"x":73.5,"y":66},{"x":73.6,"y":70},{"x":73.7,"y":64},{"x":73.8,"y":72},{"x":73.9,"y":66},
{"x":74,"y":71},{"x":74.1,"y":64},{"x":74.2,"y":69},{"x":74.3,"y":62},{"x":74.4,"y":68},{"x":74.5,"y":63},{"x":74.6,"y":70},{"x":74.7,"y":65},{"x":74.8,"y":71},{"x":74.9,"y":64},
{"x":75,"y":68},{"x":75.1,"y":62},{"x":75.2,"y":69},{"x":75.3,"y":64},{"x":75.4,"y":70},{"x":75.5,"y":63},{"x":75.6,"y":68},{"x":75.7,"y":62},{"x":75.8,"y":70},{"x":75.9,"y":64},
{"x":76,"y":71},{"x":76.1,"y":66},{"x":76.2,"y":72},{"x":76.3,"y":65},{"x":76.4,"y":70},{"x":76.5,"y":66},{"x":76.6,"y":74},{"x":76.7,"y":68},{"x":76.8,"y":76},{"x":76.9,"y":70},
{"x":77,"y":80},{"x":77.1,"y":74},{"x":77.2,"y":84},{"x":77.3,"y":78},{"x":77.4,"y":88},{"x":77.5,"y":82},{"x":77.6,"y":90},{"x":77.7,"y":86},{"x":77.8,"y":92},{"x":77.9,"y":88},
{"x":78,"y":95},{"x":78.1,"y":92},{"x":78.2,"y":100},{"x":78.3,"y":110},{"x":78.4,"y":122},{"x":78.5,"y":129},{"x":78.6,"y":112},{"x":78.7,"y":96},{"x":78.8,"y":80},{"x":78.9,"y":74},
{"x":79,"y":70},{"x":79.1,"y":76},{"x":79.2,"y":68},{"x":79.3,"y":74},{"x":79.4,"y":66},{"x":79.5,"y":72},{"x":79.6,"y":65},{"x":79.7,"y":72},{"x":79.8,"y":66},{"x":79.9,"y":74},{"x":80,"y":70}
],
"labA": [
{"x":12.05,"y":237,"t":"1"},{"x":24.02,"y":208,"t":"1"},{"x":29.24,"y":426,"t":"3"},{"x":31.6,"y":795,"t":"2"},{"x":33.42,"y":860,"t":"1"},{"x":32.54,"y":549,"t":"3"},{"x":32.92,"y":490,"t":"1"},{"x":34.46,"y":614,"t":"2"},{"x":41.25,"y":319,"t":"2"},{"x":42.37,"y":312,"t":"3"},{"x":46.92,"y":332,"t":"1"},{"x":49.43,"y":331,"t":"1"}
],
"labB": [
{"x":11.91,"y":199,"t":"1"},{"x":24.41,"y":269,"t":"1"},{"x":29.61,"y":154,"t":"1"},{"x":32.18,"y":307,"t":"2"},{"x":33.26,"y":861,"t":"1"},{"x":31.67,"y":509,"t":"1"},{"x":41.03,"y":186,"t":"2"},{"x":43.05,"y":238,"t":"1"},{"x":48.92,"y":195,"t":"1"},{"x":60.15,"y":143,"t":"2"}
],
"legA": [
{"x":61.23,"y":870,"t":"1- Ca₂Fe₂O₅"},{"x":61.23,"y":769,"t":"2- Ca₂SiO₄"},{"x":61.23,"y":668,"t":"3- Ca₃SiO₅"}
],
"legB": [
{"x":58.81,"y":860,"t":"1- Ca₂Fe₂O₅"},{"x":58.81,"y":771,"t":"2- Ca₂SiO₄"}
]
},
"hconcat": [
{
 "width": 1298, "height": 961,
 "title": {"text": "(a)", "orient": "bottom", "anchor": "middle", "dx": -28, "offset": 98, "font": "Liberation Serif", "fontSize": 78, "fontWeight": "bold", "color": "black"},
 "resolve": {"axis": {"x": "independent", "y": "independent"}},
 "layer": [
  {"data": {"name": "a"}, "mark": {"type": "line", "color": "black", "strokeWidth": 2, "clip": true},
   "encoding": {
    "x": {"field": "x", "type": "quantitative", "scale": {"domain": [10, 80], "nice": false, "zero": false},
      "axis": {"title": "2θ/°", "orient": "bottom", "values": [10,20,30,40,50,60,70,80], "tickSize": -19, "labelPadding": 41, "domain": false, "titlePadding": 36}},
    "y": {"field": "y", "type": "quantitative", "scale": {"domain": [0, 961], "nice": false, "zero": false},
      "axis": {"title": "Intensity/(a.u.)", "orient": "left", "labels": false, "ticks": false, "domain": true, "titlePadding": 79, "titleFontSize": 47, "titleY": 512}}
   }},
  {"data": {"name": "labA"}, "mark": {"type": "text", "font": "Liberation Sans", "fontSize": 31, "align": "center", "baseline": "alphabetic", "color": "black"},
   "encoding": {
    "x": {"field": "x", "type": "quantitative", "axis": {"title": null, "orient": "bottom", "values": [15,25,35,45,55,65,75], "tickSize": -9, "labels": false, "domain": false}},
    "y": {"field": "y", "type": "quantitative", "axis": null},
    "text": {"field": "t"}
   }},
  {"data": {"name": "legA"}, "mark": {"type": "text", "font": "Liberation Serif", "fontSize": 50, "align": "left", "baseline": "alphabetic", "color": "black"},
   "encoding": {
    "x": {"field": "x", "type": "quantitative", "axis": null},
    "y": {"field": "y", "type": "quantitative", "axis": null},
    "text": {"field": "t"}
   }}
 ]
},
{
 "width": 1305, "height": 963,
 "title": {"text": "(b)", "orient": "bottom", "anchor": "middle", "dx": -42, "offset": 98, "font": "Liberation Serif", "fontSize": 78, "fontWeight": "bold", "color": "black"},
 "resolve": {"axis": {"x": "independent", "y": "independent"}},
 "layer": [
  {"data": {"name": "b"}, "mark": {"type": "line", "color": "black", "strokeWidth": 1.8, "clip": true},
   "encoding": {
    "x": {"field": "x", "type": "quantitative", "scale": {"domain": [10, 80], "nice": false, "zero": false},
      "axis": {"title": "2θ/°", "orient": "bottom", "values": [10,20,30,40,50,60,70,80], "tickSize": -19, "labelPadding": 41, "domain": false, "titlePadding": 36}},
    "y": {"field": "y", "type": "quantitative", "scale": {"domain": [0, 963], "nice": false, "zero": false},
      "axis": {"title": "Intensity/(a.u.)", "orient": "left", "labels": false, "ticks": false, "domain": true, "titlePadding": 79, "titleFontSize": 47, "titleY": 515}}
   }},
  {"data": {"name": "labB"}, "mark": {"type": "text", "font": "Liberation Sans", "fontSize": 44, "align": "center", "baseline": "alphabetic", "color": "black"},
   "encoding": {
    "x": {"field": "x", "type": "quantitative", "axis": {"title": null, "orient": "bottom", "values": [15,25,35,45,55,65,75], "tickSize": -9, "labels": false, "domain": false}},
    "y": {"field": "y", "type": "quantitative", "axis": null},
    "text": {"field": "t"}
   }},
  {"data": {"name": "legB"}, "mark": {"type": "text", "font": "Liberation Serif", "fontSize": 50, "align": "left", "baseline": "alphabetic", "color": "black"},
   "encoding": {
    "x": {"field": "x", "type": "quantitative", "axis": null},
    "y": {"field": "y", "type": "quantitative", "axis": null},
    "text": {"field": "t"}
   }}
 ]
}
],
"spacing": 347,
"bounds": "flush"
}
